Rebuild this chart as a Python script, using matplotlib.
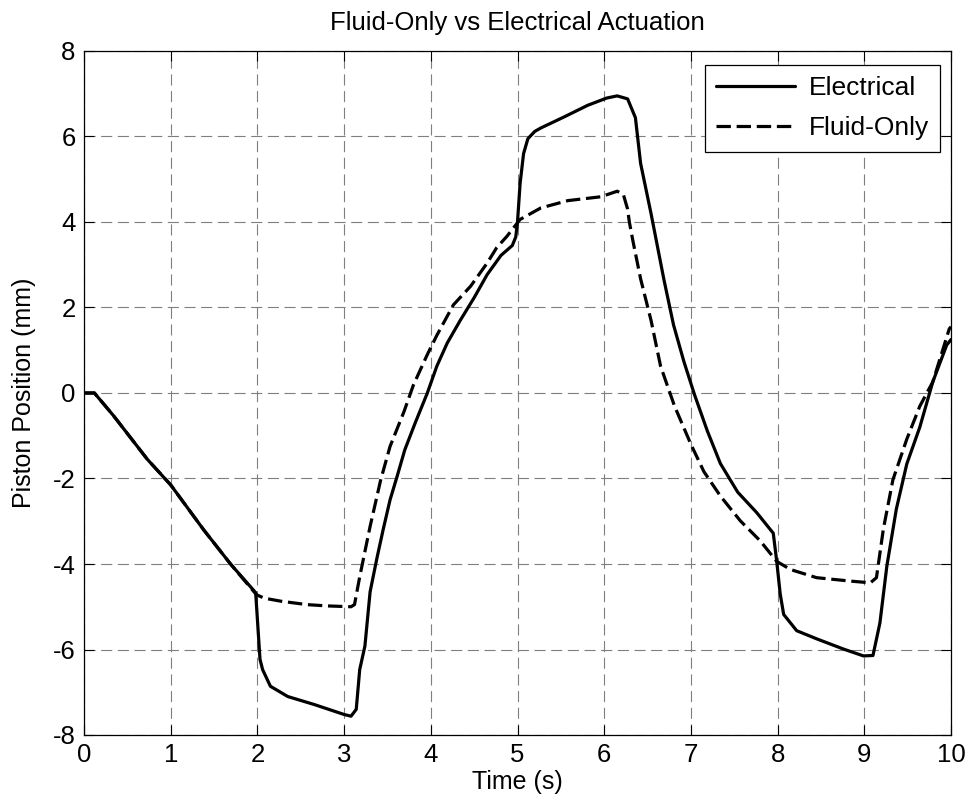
import matplotlib
matplotlib.use("Agg")
import matplotlib.pyplot as plt
from matplotlib.patches import Rectangle

plt.rcParams['font.family'] = ['Liberation Sans', 'DejaVu Sans']
plt.rcParams['axes.unicode_minus'] = False

# ---- data ----
t_elec = [0, 0.12, 0.34, 0.73, 1.0, 1.38, 1.69, 1.98, 2.03, 2.06, 2.15, 2.35, 2.66,
          3.0, 3.08, 3.14, 3.18, 3.24, 3.30, 3.38, 3.45, 3.53, 3.61, 3.70, 3.82,
          3.96, 4.07, 4.19, 4.34, 4.50, 4.65, 4.81, 4.94, 4.98, 5.0, 5.03, 5.07,
          5.12, 5.20, 5.27, 5.54, 5.81, 6.03, 6.15, 6.27, 6.36, 6.42, 6.54, 6.69,
          6.80, 6.92, 7.04, 7.19, 7.34, 7.54, 7.76, 7.95, 7.99, 8.03, 8.07, 8.22,
          8.45, 8.76, 8.99, 9.10, 9.18, 9.26, 9.37, 9.49, 9.64, 9.79, 9.95, 10.0]
v_elec = [0, 0, -0.53, -1.55, -2.15, -3.2, -4.0, -4.67, -6.23, -6.47, -6.86, -7.1, -7.29,
          -7.52, -7.56, -7.4, -6.47, -5.92, -4.65, -3.85, -3.2, -2.5, -1.96, -1.33, -0.7,
          0.0, 0.63, 1.17, 1.7, 2.23, 2.77, 3.22, 3.45, 3.65, 4.0, 4.9, 5.6,
          5.95, 6.12, 6.2, 6.46, 6.73, 6.9, 6.95, 6.88, 6.44, 5.37, 4.2, 2.64,
          1.59, 0.73, -0.03, -0.89, -1.65, -2.32, -2.8, -3.28, -3.94, -4.7, -5.18, -5.56,
          -5.75, -5.99, -6.15, -6.14, -5.38, -4.05, -2.71, -1.66, -0.8, 0.26, 1.12, 1.25]

t_fluid = [0, 0.12, 0.34, 0.73, 1.0, 1.38, 1.69, 1.99, 2.08, 2.27, 2.57, 2.8, 3.08,
           3.12, 3.18, 3.30, 3.42, 3.53, 3.69, 3.80, 3.96, 4.07, 4.26, 4.46, 4.65,
           4.76, 4.88, 5.03, 5.27, 5.58, 5.96, 6.15, 6.22, 6.27, 6.29, 6.33, 6.42,
           6.54, 6.65, 6.81, 7.0, 7.15, 7.34, 7.57, 7.80, 7.99, 8.15, 8.45, 8.84,
           9.07, 9.14, 9.22, 9.33, 9.49, 9.64, 9.79, 9.98, 10.0]
v_fluid = [0, 0, -0.53, -1.55, -2.15, -3.2, -4.0, -4.72, -4.8, -4.87, -4.95, -4.98, -5.0,
           -4.95, -4.3, -3.12, -2.05, -1.25, -0.44, 0.19, 0.9, 1.35, 2.06, 2.5, 3.04,
           3.4, 3.67, 4.06, 4.33, 4.5, 4.59, 4.72, 4.65, 4.3, 4.0, 3.57, 2.67,
           1.7, 0.63, -0.3, -1.2, -1.84, -2.41, -2.99, -3.46, -3.94, -4.13, -4.32, -4.4,
           -4.44, -4.32, -3.18, -2.03, -1.08, -0.31, 0.26, 1.5, 1.55]

xticks = list(range(0, 11))
yticks = list(range(-8, 9, 2))

title = "Fluid-Only vs Electrical Actuation"
xlabel = "Time (s)"
ylabel = "Piston Position (mm)"
labels = ["Electrical", "Fluid-Only"]

# ---- figure ----
W, H = 968, 805
fig = plt.figure(figsize=(W/100, H/100), dpi=100)
ax = fig.add_axes([84/W, 1-735/H, (951-84)/W, (735-51)/H])

ax.plot(t_elec, v_elec, color='black', lw=2.3, label=labels[0],
        solid_joinstyle='round', solid_capstyle='round')
ax.plot(t_fluid, v_fluid, color='black', lw=2.3, linestyle=(0, (4.5, 1.8)),
        label=labels[1], dash_joinstyle='round')

ax.set_xlim(0, 10)
ax.set_ylim(-8, 8)
ax.set_xticks(xticks)
ax.set_yticks(yticks)
ax.tick_params(direction='in', top=True, right=True, length=7, width=0.8,
               labelsize=18.5, pad=6, colors='black')
ax.grid(True, color='#7f7f7f', lw=0.8, linestyle=(0, (10, 5)))
for s in ax.spines.values():
    s.set_linewidth(0.9)
    s.set_color('black')

ax.set_title(title, fontsize=18.5, pad=15)
ax.set_xlabel(xlabel, fontsize=18, labelpad=2)
ax.set_ylabel(ylabel, fontsize=18, labelpad=12)

# legend: target frame in pixels (right, top, width) from the reference
box_right, box_top, box_width = 940, 65, 235
leg_kw = dict(fontsize=19, frameon=False, handlelength=3.0, handletextpad=0.5,
              borderpad=0.42, labelspacing=0.62, borderaxespad=0,
              loc='upper right', bbox_transform=fig.transFigure)
leg = ax.legend(bbox_to_anchor=(box_right/W, 1-box_top/H), **leg_kw)
fig.canvas.draw()
bb = leg.get_window_extent()
extra = max((box_width - bb.width)/2, 0)
leg.remove()
leg = ax.legend(bbox_to_anchor=((box_right-extra)/W, 1-box_top/H), **leg_kw)
leg.set_zorder(6)
fig.canvas.draw()
bb = leg.get_window_extent()
rect = Rectangle((bb.x0 - extra, bb.y0), bb.width + 2*extra, bb.height,
                 transform=None, facecolor='white', edgecolor='black',
                 lw=0.9, zorder=5.5, clip_on=False)
ax.add_artist(rect)

fig.savefig("out.png", dpi=100)
